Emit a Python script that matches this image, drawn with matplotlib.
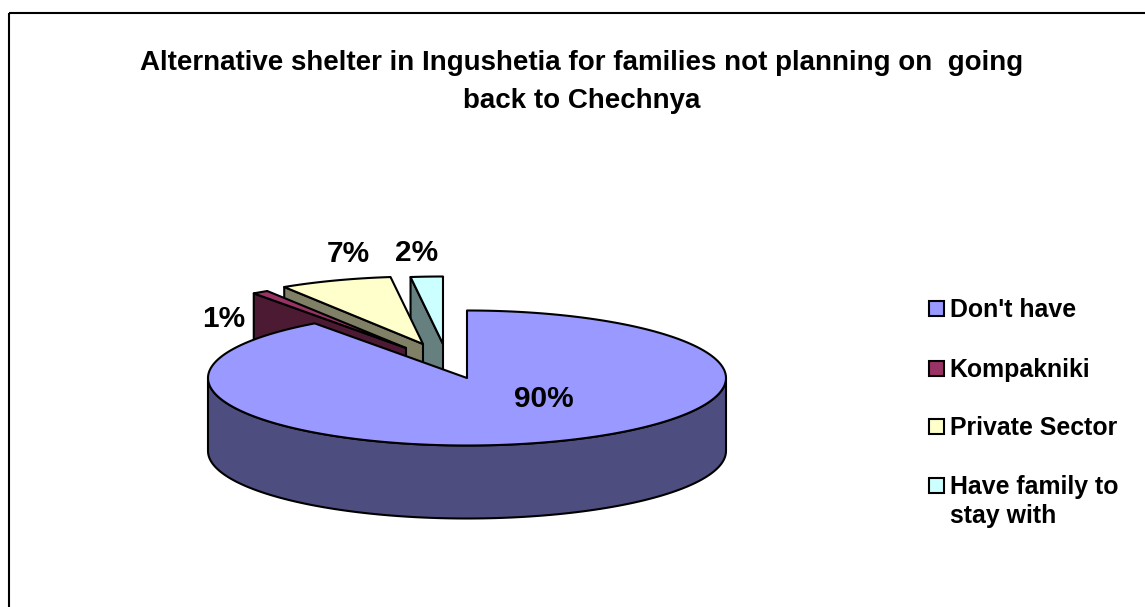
import numpy as np
import matplotlib
matplotlib.use("Agg")
import matplotlib.pyplot as plt
from matplotlib.patches import Polygon, Rectangle

plt.rcParams["font.family"] = ["Liberation Sans", "DejaVu Sans"]
plt.rcParams["font.weight"] = "bold"

# data
categories = ["Don't have", "Kompakniki", "Private Sector", "Have family to\nstay with"]
values = [90, 1, 7, 2]
title = "Alternative shelter in Ingushetia for families not planning on  going\nback to Chechnya"

# styles, one entry per slice
top_colors = ["#9999FF", "#993366", "#FFFFCC", "#CCFFFF"]
wall_colors = ["#4D4D80", "#4D1A33", "#808066", "#668080"]
slice_offsets = [(0, 0), (-61, -30), (-44, -34), (-24, -34)]
label_pos = [(544, 399), (224, 319), (348, 254), (417, 253)]
legend_y = [309, 369, 427, 486]

# pie geometry in pixels
CX, CY = 467, 378
RX, RY = 259, 67.5
DEPTH = 73
LW = 1.5


def rim(a0, a1, n=120):
    # angles run clockwise from 12 o'clock
    a = np.radians(np.linspace(a0, a1, n))
    return np.sin(a) * RX, -np.cos(a) * RY


fig = plt.figure(figsize=(11.45, 6.07), dpi=100)
ax = fig.add_axes([0, 0, 1, 1])
ax.set_xlim(0, 1145)
ax.set_ylim(607, 0)
ax.axis("off")

# chart border
ax.add_patch(Rectangle((9, 13), 1150, 620, fill=False, ec="black", lw=1.5))

edges = np.concatenate([[0], np.cumsum(values)]) * 3.6

# back slices first so the big slice covers their walls
for i in [3, 2, 1]:
    dx, dy = slice_offsets[i]
    tx, ty = CX + dx, CY + dy
    xs, ys = rim(edges[i], edges[i + 1])
    wall = [(tx + xs[0], ty + ys[0]), (tx, ty), (tx, ty + DEPTH), (tx + xs[0], ty + ys[0] + DEPTH)]
    ax.add_patch(Polygon(wall, fc=wall_colors[i], ec="black", lw=LW, joinstyle="round"))
    pts = np.column_stack([np.r_[tx, tx + xs], np.r_[ty, ty + ys]])
    ax.add_patch(Polygon(pts, fc=top_colors[i], ec="black", lw=LW, joinstyle="round"))

# big slice outer wall
xs, ys = rim(90, 270)
side = np.column_stack([np.r_[CX + xs, CX + xs[::-1]], np.r_[CY + ys, CY + ys[::-1] + DEPTH]])
ax.add_patch(Polygon(side, fc=wall_colors[0], ec="black", lw=LW, joinstyle="round"))

# big slice top
xs, ys = rim(edges[0], edges[1], 300)
pts = np.column_stack([np.r_[CX, CX + xs], np.r_[CY, CY + ys]])
ax.add_patch(Polygon(pts, fc=top_colors[0], ec="black", lw=LW, joinstyle="round"))

for v, (x, y) in zip(values, label_pos):
    ax.text(x, y, f"{v}%", fontsize=21.5, ha="center", va="center", color="black")

ax.text(582, 82, title, fontsize=20, ha="center", va="center", linespacing=1.59, color="black")

# legend
for y, name, c in zip(legend_y, categories, top_colors):
    ax.add_patch(Rectangle((929, y - 8), 15, 15, fc=c, ec="black", lw=1.5))
    ax.text(949.5, y - 11, name, fontsize=17.9, ha="left", va="top", linespacing=1.27, color="black")

fig.savefig("out.png", dpi=100)
